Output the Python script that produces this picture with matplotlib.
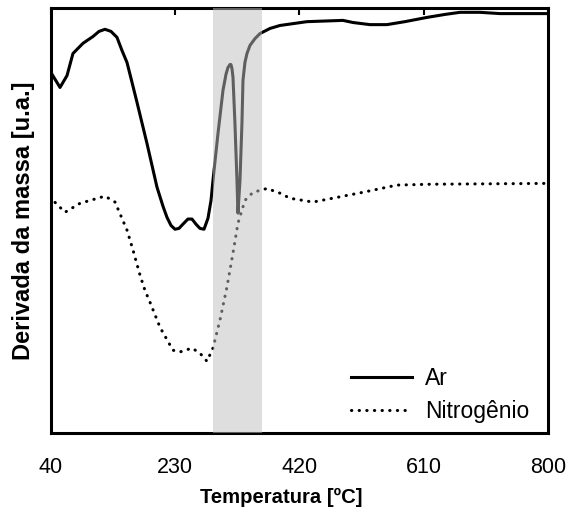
import matplotlib
matplotlib.use("Agg")
import matplotlib.pyplot as plt

plt.rcParams['font.family'] = ['Liberation Sans', 'DejaVu Sans']

# DTG curves, arbitrary units (0-100)
temp_ar = [40, 53.8, 64.5, 73.6, 88.9, 104.2, 113.4, 122.6, 131.8, 140.9, 148.6,
           156.2, 163.9, 171.5, 186.8, 202.1, 211.3, 217.4, 223.5, 229.6, 235.7,
           241.8, 249.4, 255.6, 261.7, 267.8, 274.0, 280.1, 284.7, 287.7, 295.4,
           303.0, 307.6, 310.6, 313.7, 315.2, 316.7, 318.3, 321.3, 324.4, 325.9,
           329.0, 332.0, 333.6, 336.6, 339.7, 344.3, 351.9, 359.6, 374.9, 390.1,
           431.4, 486.5, 501.8, 527.7, 553.7, 581.2, 614.9, 642.4, 665.4, 696.0,
           726.5, 800]
dtg_ar = [84.9, 81.4, 84.2, 89.4, 91.8, 93.4, 94.6, 95.1, 94.6, 93.2, 90.1,
          87.3, 82.6, 77.9, 68.2, 57.9, 53.4, 50.8, 48.9, 48.0, 48.2,
          49.2, 50.4, 50.4, 49.2, 48.2, 48.0, 50.6, 54.8, 59.5, 70.6,
          80.7, 84.5, 86.1, 86.8, 86.8, 85.9, 83.8, 72.9, 59.5, 51.8,
          59.5, 72.9, 83.1, 87.3, 89.4, 91.3, 92.9, 94.1, 95.3, 96.0,
          96.9, 97.2, 96.7, 96.2, 96.2, 96.9, 97.9, 98.6, 99.1, 99.1,
          98.8, 98.8]

temp_n2 = [40, 43.1, 61.4, 84.3, 122.6, 137.9, 156.2, 165.4, 176.1, 183.7, 191.4,
           206.7, 226.5, 237.3, 255.6, 267.8, 278.5, 287.7, 298.4, 309.1, 318.3,
           325.9, 336.6, 348.9, 370.3, 390.1, 405.4, 440.6, 477.3, 517.0, 569.0,
           619.5, 800]
dtg_n2 = [55.8, 54.8, 52.0, 54.1, 55.8, 54.4, 47.8, 43.1, 37.2, 33.6, 30.8,
          24.9, 19.5, 19.1, 20.0, 18.8, 16.9, 20.0, 26.6, 34.4, 42.4,
          49.4, 54.8, 56.7, 57.6, 56.5, 55.3, 54.4, 55.5, 56.7, 58.4,
          58.6, 58.8]

band = (287, 363)
xticks = [40, 230, 420, 610, 800]

fig = plt.figure(figsize=(5.71, 5.12), dpi=100)
ax = fig.add_axes([0.0893, 0.1543, 0.8704, 0.8291])

ax.plot(temp_ar, dtg_ar, color='black', lw=2.2, label='Ar', zorder=2,
        solid_joinstyle='round')
ax.plot(temp_n2, dtg_n2, color='black', lw=2.2, linestyle=(0, (0.1, 2.4)),
        dash_capstyle='round', label='Nitrogênio', zorder=2)
ax.axvspan(band[0], band[1], color='#bfbfbf', alpha=0.5, lw=0, zorder=3)

ax.set_xlim(40, 800)
ax.set_ylim(0, 100)
ax.set_xticks(xticks)
ax.set_xticklabels([str(t) for t in xticks], fontsize=15.5)
ax.set_yticks([])
ax.tick_params(axis='x', top=True, bottom=False, direction='in', length=5,
               width=1.5, pad=17)
for s in ax.spines.values():
    s.set_linewidth(2.2)

ax.set_xlabel('Temperatura [ºC]', fontsize=14.6, fontweight='bold')
ax.xaxis.set_label_coords(0.463, -0.13)
ax.set_ylabel('Derivada da massa [u.a.]', fontsize=17, fontweight='bold')
ax.yaxis.set_label_coords(-0.033, 0.5)

leg = ax.legend(loc='lower right', frameon=False, fontsize=16.5,
                handlelength=2.66, handletextpad=0.6, labelspacing=0.45,
                bbox_to_anchor=(1.0, -0.02), borderaxespad=0.4)

fig.savefig('out.png', dpi=100)
